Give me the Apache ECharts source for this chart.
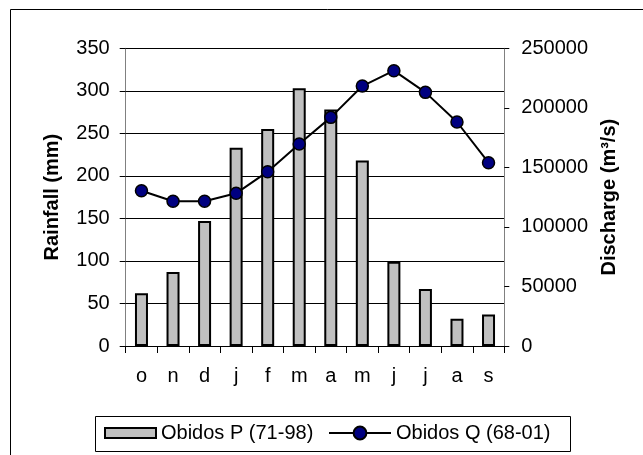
<!DOCTYPE html>
<html>
<head>
<meta charset="utf-8">
<script src="https://cdn.jsdelivr.net/npm/echarts@6/dist/echarts.min.js"></script>
<style>html,body{margin:0;padding:0;background:#fff;}#c{width:643px;height:455px;}</style>
</head>
<body>
<div id="c"></div>
<script>
const months = ['o','n','d','j','f','m','a','m','j','j','a','s'];
const rainfall = [62, 87, 147, 233, 255, 303, 278, 218, 99, 67, 32, 37];
const discharge = [130400, 121500, 121500, 128200, 146400, 169600, 192000, 218300, 231200, 213000, 188100, 153900];
const rainTicks = {min: 0, max: 350, interval: 50};
const dischargeTicks = {min: 0, max: 250000, interval: 50000};
const nameP = 'Obidos P (71-98)';
const nameQ = 'Obidos Q (68-01)';

const font = 'Liberation Sans, Arial, sans-serif';
const chart = echarts.init(document.getElementById('c'), null, {renderer: 'canvas'});
chart.setOption({
  animation: false,
  backgroundColor: '#fff',
  textStyle: {fontFamily: font, color: '#000'},
  grid: {left: 125.7, right: 138.7, top: 48.3, bottom: 109, containLabel: false},
  graphic: [
    {type: 'rect', shape: {x: 10.5, y: 9.5, width: 700, height: 500}, style: {fill: 'none', stroke: '#000', lineWidth: 1}, silent: true},
    {type: 'rect', shape: {x: 95.5, y: 416.5, width: 475, height: 35}, style: {fill: 'none', stroke: '#000', lineWidth: 1}, silent: true}
  ],
  legend: [
    {data: [{name: nameP, icon: 'rect'}], left: 104, top: 423, padding: 0, itemWidth: 51, itemHeight: 10,
     textStyle: {fontFamily: font, fontSize: 20, color: '#000'}},
    {data: [nameQ], left: 328, top: 423, padding: 0, itemWidth: 62, itemHeight: 16,
     textStyle: {fontFamily: font, fontSize: 20, color: '#000'}}
  ],
  xAxis: {
    type: 'category', data: months, boundaryGap: true,
    axisLine: {lineStyle: {color: '#000', width: 1}},
    axisTick: {show: true, length: 7, lineStyle: {color: '#000'}},
    axisLabel: {fontFamily: font, fontSize: 20, color: '#000', margin: 20}
  },
  yAxis: [
    {type: 'value', min: rainTicks.min, max: rainTicks.max, interval: rainTicks.interval,
     name: 'Rainfall (mm)', nameLocation: 'middle', nameRotate: 90, nameGap: 63,
     nameTextStyle: {fontFamily: font, fontSize: 20, fontWeight: 'bold', color: '#000'},
     axisLine: {show: true, lineStyle: {color: '#808080', width: 1}},
     axisTick: {show: true, length: 6, lineStyle: {color: '#000'}},
     axisLabel: {fontFamily: font, fontSize: 20, color: '#000', margin: 16},
     splitLine: {show: true, lineStyle: {color: '#000', width: 1}}},
    {type: 'value', position: 'right', min: dischargeTicks.min, max: dischargeTicks.max, interval: dischargeTicks.interval,
     name: 'Discharge (m³/s)', nameLocation: 'middle', nameRotate: 90, nameGap: 95,
     nameTextStyle: {fontFamily: font, fontSize: 20, fontWeight: 'bold', color: '#000'},
     axisLine: {show: true, lineStyle: {color: '#808080', width: 1}},
     axisTick: {show: true, length: 5, lineStyle: {color: '#000'}},
     axisLabel: {fontFamily: font, fontSize: 20, color: '#000', margin: 17, formatter: function (v) { return String(v); }},
     splitLine: {show: false}}
  ],
  series: [
    {name: nameP, type: 'bar', yAxisIndex: 0, data: rainfall, barWidth: 13,
     itemStyle: {color: '#c0c0c0', borderColor: '#000', borderWidth: 2}},
    {name: nameQ, type: 'line', yAxisIndex: 1, data: discharge,
     symbol: 'circle', symbolSize: 12,
     lineStyle: {color: '#000', width: 2},
     itemStyle: {color: '#000080', borderColor: '#000', borderWidth: 1.5}}
  ]
});
</script>
</body>
</html>
